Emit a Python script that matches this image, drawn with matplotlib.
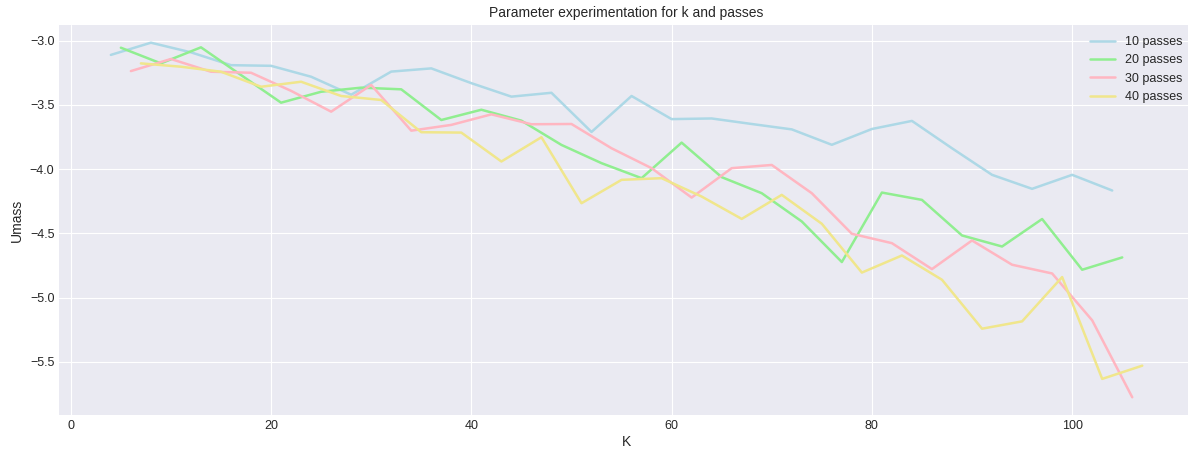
import numpy as np
from matplotlib import pyplot as plt

plt.style.use('seaborn-v0_8-darkgrid')
plt.rcParams['font.family'] = ['Liberation Sans', 'DejaVu Sans']

# k values per series (each run was offset by one)
k_10 = list(range(4, 105, 4))
k_20 = list(range(5, 106, 4))
k_30 = list(range(6, 107, 4))
k_40 = list(range(7, 108, 4))

umass_10 = [-3.11, -3.015, -3.09, -3.19, -3.195, -3.28, -3.42, -3.24, -3.215,
            -3.33, -3.435, -3.405, -3.71, -3.43, -3.61, -3.605, -3.648, -3.69,
            -3.81, -3.687, -3.624, -3.837, -4.044, -4.153, -4.044, -4.166]
umass_20 = [-3.054, -3.176, -3.051, -3.267, -3.482, -3.397, -3.365, -3.378,
            -3.617, -3.537, -3.622, -3.811, -3.953, -4.07, -3.793, -4.062,
            -4.187, -4.407, -4.723, -4.182, -4.239, -4.516, -4.602, -4.388,
            -4.783, -4.687]
umass_30 = [-3.236, -3.142, -3.241, -3.249, -3.39, -3.552, -3.344, -3.70,
            -3.655, -3.573, -3.65, -3.648, -3.837, -3.992, -4.221, -3.992,
            -3.967, -4.187, -4.503, -4.576, -4.778, -4.555, -4.744, -4.812,
            -5.177, -5.776]
umass_40 = [-3.176, -3.202, -3.241, -3.358, -3.319, -3.43, -3.461, -3.712,
            -3.715, -3.94, -3.751, -4.265, -4.083, -4.07, -4.213, -4.387,
            -4.20, -4.425, -4.805, -4.672, -4.861, -5.242, -5.185, -4.84,
            -5.633, -5.53]

labels = ['10 passes', '20 passes', '30 passes', '40 passes']
colors = ['lightblue', 'lightgreen', 'lightpink', 'khaki']

fig = plt.figure(figsize=(11.88, 4.5), dpi=100)
ax = fig.add_axes([0.0499, 0.0778, 0.955, 0.8667])

for k, u, lab, c in zip([k_10, k_20, k_30, k_40],
                        [umass_10, umass_20, umass_30, umass_40],
                        labels, colors):
    ax.plot(k, u, color=c, linewidth=1.8, label=lab)

ax.set_xlim(-1.15, 112.15)
ax.set_title('Parameter experimentation for k and passes', fontsize=10)
ax.set_xlabel('K', fontsize=10, labelpad=2)
ax.set_ylabel('Umass', fontsize=10)
ax.tick_params(labelsize=9)
ax.legend(loc='upper right', fontsize=9)

plt.savefig('out.png')
